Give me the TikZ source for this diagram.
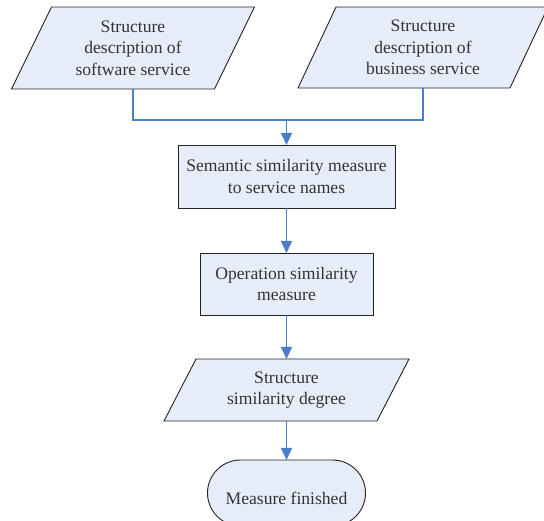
\documentclass[tikz,border=0pt]{standalone}
\usepackage{fontspec}
\setmainfont{Liberation Serif}
\usetikzlibrary{arrows.meta}
\definecolor{boxfill}{RGB}{231,237,248}
\definecolor{linkblue}{RGB}{74,126,200}
\definecolor{edge}{RGB}{35,35,35}
\tikzset{
  frame/.style={inner sep=0pt, outer sep=0pt, align=center, font=\fontsize{17.6}{21.7}\selectfont, text=black!80},
  outline/.style={draw=edge, line width=0.9pt, fill=boxfill},
  link/.style={draw=linkblue, line width=1.4pt},
  linkarrow/.style={link, -{Triangle[length=12pt,width=11pt]}},
}
\begin{document}
\begin{tikzpicture}[x=1pt,y=-1pt]
\useasboundingbox (0,0) rectangle (544,521);
\begin{scope}
\clip (0,0) rectangle (544,521);
% left parallelogram
\node[frame, minimum width=203pt, minimum height=82pt] (sw) at (133,48) {};
\draw[outline] ([xshift=20pt]sw.north west) -- ([xshift=20pt]sw.north east) -- ([xshift=-20pt]sw.south east) -- ([xshift=-20pt]sw.south west) -- cycle;
\node[frame] at (sw) {Structure\\description of\\software service};
% right parallelogram
\node[frame, minimum width=212pt, minimum height=81pt] (bs) at (423,47.5) {};
\draw[outline] ([xshift=19pt]bs.north west) -- ([xshift=19pt]bs.north east) -- ([xshift=-19pt]bs.south east) -- ([xshift=-19pt]bs.south west) -- cycle;
\node[frame] at (bs) {Structure\\description of\\business service};
% box 1
\node[frame, outline, minimum width=217pt, minimum height=63pt] (sem) at (286.5,176.5) {Semantic similarity measure\\to service names};
% box 2
\node[frame, outline, minimum width=173pt, minimum height=62pt] (op) at (286.5,284) {Operation similarity\\measure};
% parallelogram 3
\node[frame, minimum width=213pt, minimum height=62pt] (deg) at (286.5,390) {};
\draw[outline] ([xshift=16pt]deg.north west) -- ([xshift=16pt]deg.north east) -- ([xshift=-16pt]deg.south east) -- ([xshift=-16pt]deg.south west) -- cycle;
\node[frame] at (deg) {Structure\\similarity degree};
% terminal
\node[frame, outline, rounded corners=33pt, minimum width=158pt, minimum height=66pt] (fin) at (286.5,493) {};
\node[frame] at (286.5,498) {Measure finished};
% connectors
\coordinate (join) at (sem.north |- 0,120);
\draw[link] (sw.south) |- (join) -| (bs.south);
\draw[linkarrow] (join) -- (sem.north);
\draw[linkarrow] (sem.south) -- (op.north);
\draw[linkarrow] (op.south) -- (deg.north);
\draw[linkarrow] (deg.south) -- (fin.north);
\end{scope}
\end{tikzpicture}
\end{document}
